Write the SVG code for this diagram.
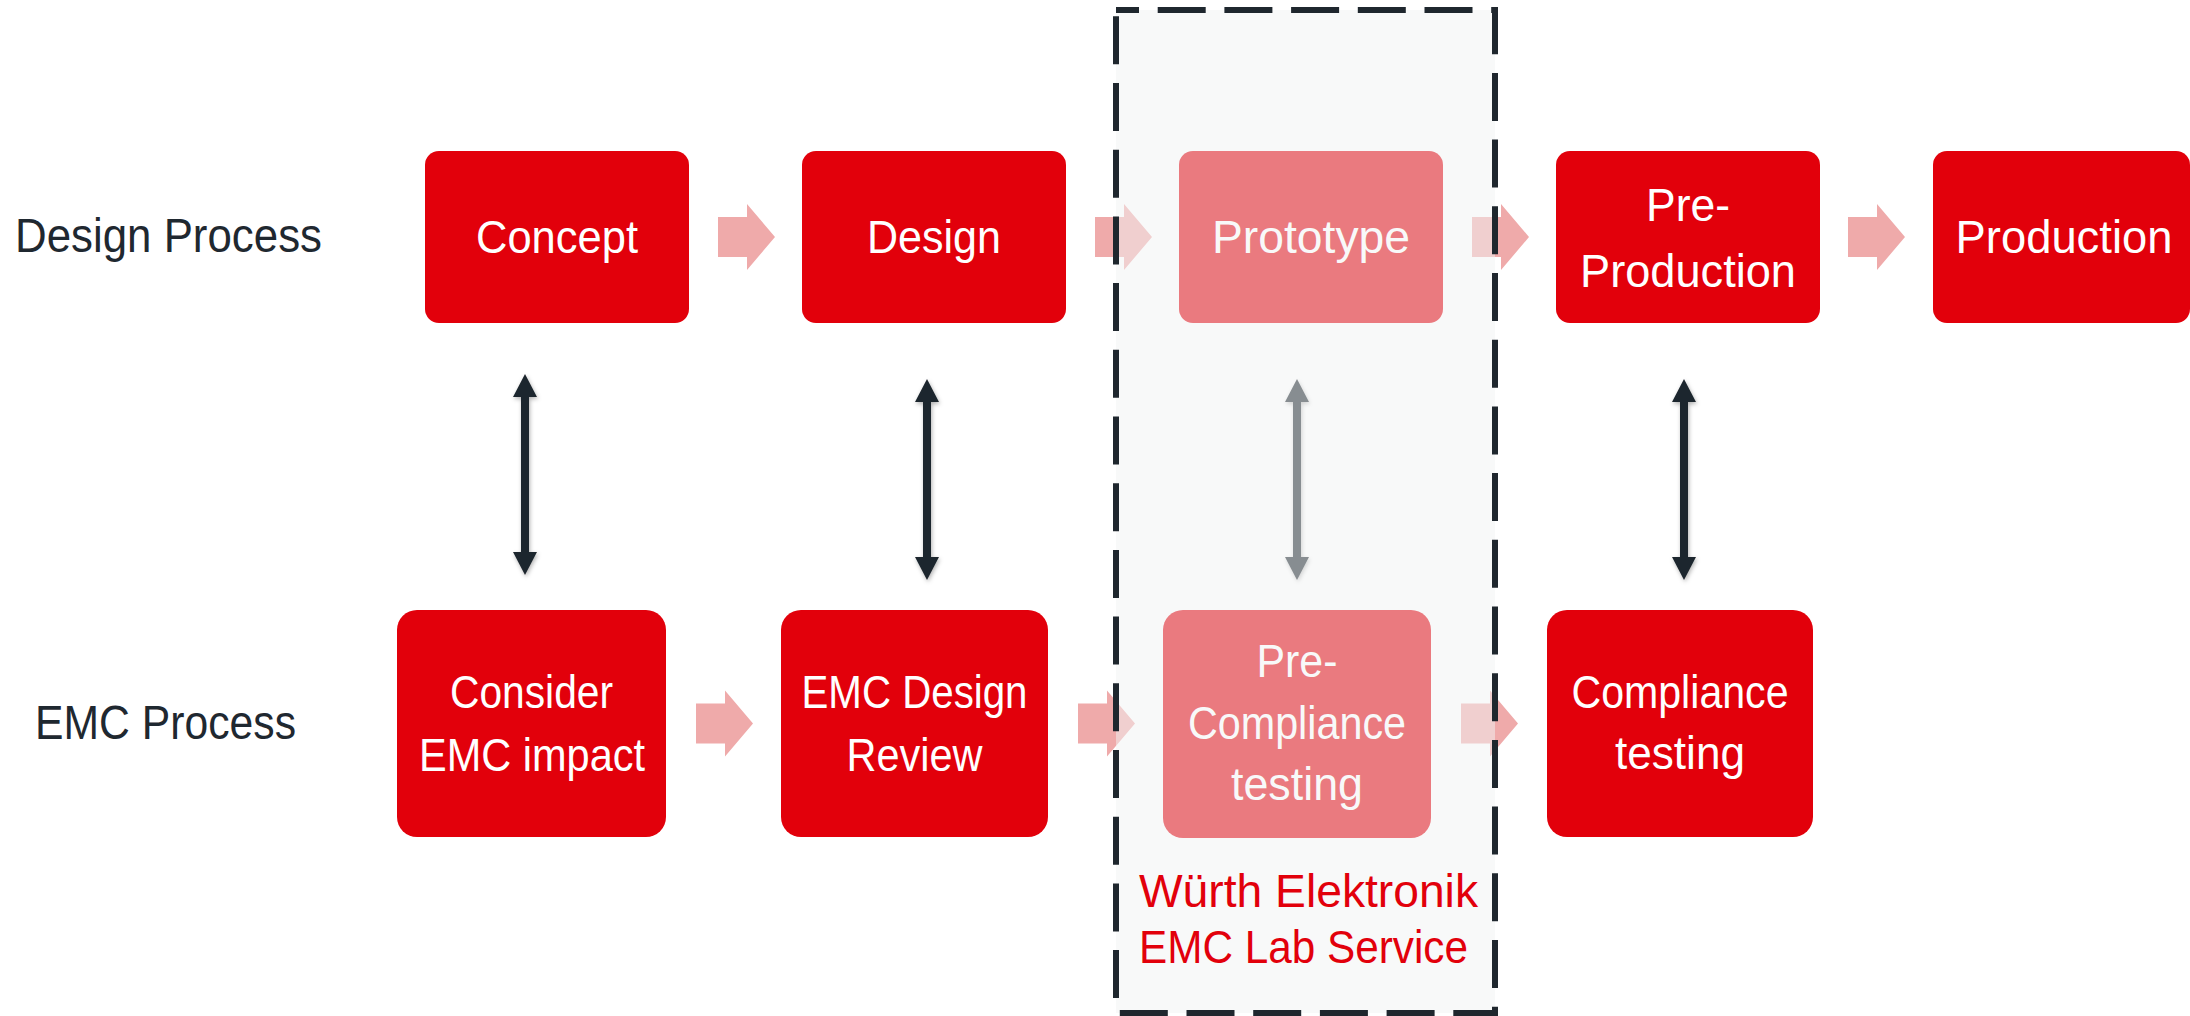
<svg xmlns="http://www.w3.org/2000/svg" xmlns:xlink="http://www.w3.org/1999/xlink" width="2190" height="1016" viewBox="0 0 2190 1016">
  <style>
    .node { fill: #e2000b; }
    .ntxt { font-family: "Liberation Sans", Arial, sans-serif; font-size: 46px; fill: #ffffff; text-anchor: middle; }
    .lbl { font-family: "Liberation Sans", Arial, sans-serif; font-size: 49px; fill: #1f2830; }
    .red { font-family: "Liberation Sans", Arial, sans-serif; font-size: 46px; fill: #e2000b; }
    .blk { fill: #efaaaa; }
    .dbl { fill: #1f272e; filter: url(#sh); }
  </style>
  <defs>
    <filter id="sh" x="-50%" y="-10%" width="200%" height="120%">
      <feDropShadow dx="1" dy="2" stdDeviation="2" flood-color="#000" flood-opacity="0.3"/>
    </filter>
    <path id="blkArrow" d="M0,-20 H29 V-33 L57,0 L29,33 V20 H0 Z"/>
    <path id="dblArrow" d="M0,0 L12,23 H4 V178 H12 L0,201 L-12,178 H-4 V23 H-12 Z"/>
  </defs>

  <rect x="0" y="0" width="2190" height="1016" fill="#ffffff"/>

  <!-- Row labels -->
  <text class="lbl" x="15" y="252" textLength="307" lengthAdjust="spacingAndGlyphs">Design Process</text>
  <text class="lbl" x="35" y="739" textLength="261" lengthAdjust="spacingAndGlyphs">EMC Process</text>

  <!-- Design process nodes -->
  <g id="node-concept">
    <rect class="node" x="425" y="151" width="264" height="172" rx="14"/>
    <text class="ntxt" x="557" y="253" textLength="162" lengthAdjust="spacingAndGlyphs">Concept</text>
  </g>
  <g id="node-design">
    <rect class="node" x="802" y="151" width="264" height="172" rx="14"/>
    <text class="ntxt" x="934" y="253" textLength="134" lengthAdjust="spacingAndGlyphs">Design</text>
  </g>
  <g id="node-prototype">
    <rect class="node" x="1179" y="151" width="264" height="172" rx="14"/>
    <text class="ntxt" x="1311" y="253" textLength="198" lengthAdjust="spacingAndGlyphs">Prototype</text>
  </g>
  <g id="node-preproduction">
    <rect class="node" x="1556" y="151" width="264" height="172" rx="14"/>
    <text class="ntxt" x="1688" y="221" textLength="84" lengthAdjust="spacingAndGlyphs">Pre-</text>
    <text class="ntxt" x="1688" y="287" textLength="216" lengthAdjust="spacingAndGlyphs">Production</text>
  </g>
  <g id="node-production">
    <rect class="node" x="1933" y="151" width="257" height="172" rx="14"/>
    <text class="ntxt" x="2064" y="253" textLength="217" lengthAdjust="spacingAndGlyphs">Production</text>
  </g>

  <!-- EMC process nodes -->
  <g id="node-consider">
    <rect class="node" x="397" y="610" width="269" height="227" rx="20"/>
    <text class="ntxt" x="531.5" y="708" textLength="163" lengthAdjust="spacingAndGlyphs">Consider</text>
    <text class="ntxt" x="532" y="771" textLength="226" lengthAdjust="spacingAndGlyphs">EMC impact</text>
  </g>
  <g id="node-emcreview">
    <rect class="node" x="781" y="610" width="267" height="227" rx="20"/>
    <text class="ntxt" x="914.5" y="708" textLength="226" lengthAdjust="spacingAndGlyphs">EMC Design</text>
    <text class="ntxt" x="914.5" y="771" textLength="136" lengthAdjust="spacingAndGlyphs">Review</text>
  </g>
  <g id="node-precompliance">
    <rect class="node" x="1163" y="610" width="268" height="228" rx="20"/>
    <text class="ntxt" x="1297" y="677" textLength="81" lengthAdjust="spacingAndGlyphs">Pre-</text>
    <text class="ntxt" x="1297" y="739" textLength="218" lengthAdjust="spacingAndGlyphs">Compliance</text>
    <text class="ntxt" x="1297" y="800" textLength="132" lengthAdjust="spacingAndGlyphs">testing</text>
  </g>
  <g id="node-compliance">
    <rect class="node" x="1547" y="610" width="266" height="227" rx="20"/>
    <text class="ntxt" x="1680" y="708" textLength="217" lengthAdjust="spacingAndGlyphs">Compliance</text>
    <text class="ntxt" x="1680" y="769" textLength="130" lengthAdjust="spacingAndGlyphs">testing</text>
  </g>

  <!-- Connectors -->
  <g id="connectors">
    <use xlink:href="#blkArrow" href="#blkArrow" class="blk" x="718" y="237"/>
    <use xlink:href="#blkArrow" href="#blkArrow" class="blk" x="1095" y="237"/>
    <use xlink:href="#blkArrow" href="#blkArrow" class="blk" x="1472" y="237"/>
    <use xlink:href="#blkArrow" href="#blkArrow" class="blk" x="1848" y="237"/>
    <use xlink:href="#blkArrow" href="#blkArrow" class="blk" x="696" y="723.5"/>
    <use xlink:href="#blkArrow" href="#blkArrow" class="blk" x="1078" y="723.5"/>
    <use xlink:href="#blkArrow" href="#blkArrow" class="blk" x="1461" y="723.5"/>

    <use xlink:href="#dblArrow" href="#dblArrow" class="dbl" x="525" y="374"/>
    <use xlink:href="#dblArrow" href="#dblArrow" class="dbl" x="927" y="379"/>
    <use xlink:href="#dblArrow" href="#dblArrow" class="dbl" x="1297" y="379"/>
    <use xlink:href="#dblArrow" href="#dblArrow" class="dbl" x="1684" y="379"/>
  </g>

  <!-- Würth Elektronik EMC Lab Service region -->
  <g id="lab-service">
    <rect x="1116" y="10" width="379" height="1003" fill="#f2f3f3" fill-opacity="0.5"/>
    <rect x="1116" y="10" width="379" height="1003" fill="none" stroke="#1f272e" stroke-width="6" stroke-dasharray="48 18.7" stroke-dashoffset="25"/>
    <text class="red" x="1139" y="907" textLength="339" lengthAdjust="spacingAndGlyphs">Würth Elektronik</text>
    <text class="red" x="1139" y="963" textLength="329" lengthAdjust="spacingAndGlyphs">EMC Lab Service</text>
  </g>
</svg>
